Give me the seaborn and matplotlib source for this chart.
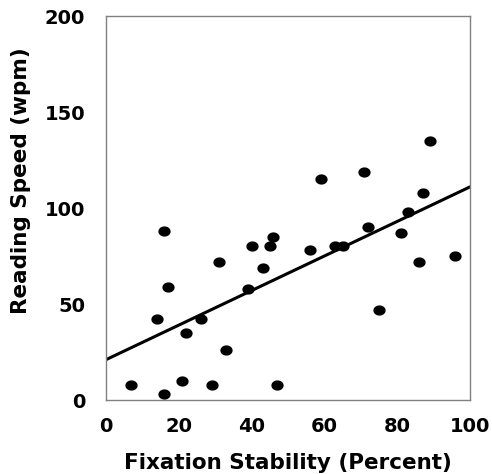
import numpy as np
import pandas as pd
import matplotlib
matplotlib.use("Agg")
import matplotlib.pyplot as plt
import seaborn as sns
from matplotlib.path import Path

fixation = [7, 16, 16, 17, 14, 22, 21, 26, 29, 31, 33, 39, 40, 43, 45, 46, 47,
            56, 59, 63, 65, 71, 72, 75, 81, 83, 86, 87, 89, 96]
speed = [8, 3, 88, 59, 42, 35, 10, 42, 8, 72, 26, 58, 80, 69, 80, 85, 8,
         78, 115, 80, 80, 119, 90, 47, 87, 98, 72, 108, 135, 75]
fit_x = [0, 100]
fit_y = [21, 111]
x_ticks = [0, 20, 40, 60, 80, 100]
y_ticks = [0, 50, 100, 150, 200]

sns.set_theme(style="white")
plt.rcParams['font.family'] = ['DejaVu Sans']
plt.rcParams['text.color'] = 'black'
plt.rcParams['axes.labelcolor'] = 'black'

fig = plt.figure(figsize=(4.92, 4.74), dpi=100)
ax = fig.add_axes([106/492, 1-400/474, 364/492, 384/474])

t = np.linspace(0, 2*np.pi, 40)
ell = Path(np.column_stack([1.2*np.cos(t), np.sin(t)]), closed=True)

df = pd.DataFrame({"x": fixation, "y": speed})
sns.scatterplot(data=df, x="x", y="y", ax=ax, marker=ell, s=78,
                color="black", edgecolor="black", linewidth=0, zorder=3)
sns.lineplot(x=fit_x, y=fit_y, ax=ax, color="black", linewidth=2.2, zorder=2)

ax.set_xlim(0, 100)
ax.set_ylim(0, 200)
ax.set_xticks(x_ticks)
ax.set_yticks(y_ticks)
ax.set_xticklabels([str(v) for v in x_ticks], fontsize=14, fontweight="bold")
ax.set_yticklabels([str(v) for v in y_ticks], fontsize=14, fontweight="bold")
ax.tick_params(direction="in", length=7, width=1, color="#808080",
               labelcolor="black")
ax.tick_params(axis="x", pad=12)
ax.tick_params(axis="y", pad=15)
for s in ax.spines.values():
    s.set_color("#808080")
    s.set_linewidth(1)

ax.set_xlabel("Fixation Stability (Percent)", fontsize=15.5, fontweight="bold")
ax.set_ylabel("Reading Speed (wpm)", fontsize=15.5, fontweight="bold")
ax.xaxis.label.set_va("center")
ax.xaxis.set_label_coords(0.5, (400 - 463) / 384)
ax.yaxis.label.set_va("center")
ax.yaxis.set_label_coords((21 - 106) / 364, (400 - 181) / 384)

fig.savefig("out.png", dpi=100)
